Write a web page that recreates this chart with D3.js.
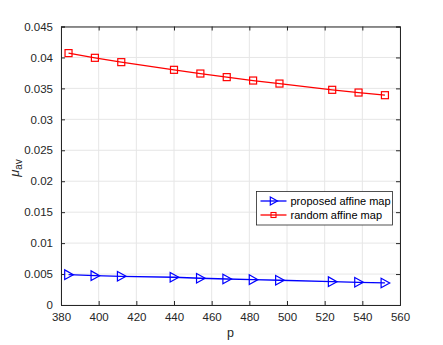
<!DOCTYPE html>
<html><head><meta charset="utf-8">
<script src="https://cdn.jsdelivr.net/npm/d3@7/dist/d3.min.js"></script>
<style>body{margin:0;background:#fff}svg{display:block}text{font-family:"Liberation Sans",Arial,sans-serif}</style>
</head><body><svg id="c" width="443" height="345"></svg>
<script>
const pValues = [384, 398, 412, 440, 454, 468, 482, 496, 524, 538, 552];
const proposed = [0.0049, 0.00474, 0.00464, 0.00448, 0.00432, 0.0042, 0.0041, 0.0040, 0.00377, 0.00367, 0.00356];
const randomMap = [0.0407, 0.03994, 0.03924, 0.0380, 0.0374, 0.03682, 0.03627, 0.03578, 0.03477, 0.03433, 0.0339];
const xTicks = [380, 400, 420, 440, 460, 480, 500, 520, 540, 560];
const yTicks = [0, 0.005, 0.01, 0.015, 0.02, 0.025, 0.03, 0.035, 0.04, 0.045];
const seriesNames = ["proposed affine map", "random affine map"];

const svg = d3.select("#c");
const L = 61, R = 400, T = 26.5, B = 305;
const x = d3.scaleLinear().domain([380, 560]).range([L, R]);
const y = d3.scaleLinear().domain([0, 0.045]).range([B, T]);
const axisColor = "#262626";

// grid
const g = svg.append("g");
g.selectAll(".gx").data(xTicks).enter().append("line")
  .attr("x1", d => x(d)).attr("x2", d => x(d)).attr("y1", T).attr("y2", B)
  .attr("stroke", "#e6e6e6").attr("stroke-width", 1);
g.selectAll(".gy").data(yTicks).enter().append("line")
  .attr("y1", d => y(d)).attr("y2", d => y(d)).attr("x1", L).attr("x2", R)
  .attr("stroke", "#e6e6e6").attr("stroke-width", 1);

// axes
const fmt = d => String(+d.toFixed(4));
const xAxis = d3.axisBottom(x).tickValues(xTicks).tickSize(-4).tickPadding(8).tickFormat(d => d);
const yAxis = d3.axisLeft(y).tickValues(yTicks).tickSize(-4).tickPadding(8).tickFormat(fmt);
const xa = svg.append("g").attr("transform", `translate(0,${B})`).call(xAxis);
const ya = svg.append("g").attr("transform", `translate(${L},0)`).call(yAxis);
const xt = svg.append("g").attr("transform", `translate(0,${T})`).call(d3.axisTop(x).tickValues(xTicks).tickSize(-4).tickFormat(""));
const yr = svg.append("g").attr("transform", `translate(${R},0)`).call(d3.axisRight(y).tickValues(yTicks).tickSize(-4).tickFormat(""));
[xa, ya, xt, yr].forEach(a => {
  a.selectAll("path").attr("stroke", axisColor).attr("stroke-width", 1);
  a.selectAll("line").attr("stroke", axisColor);
  a.selectAll("text").attr("fill", axisColor).attr("font-size", 11.5);
});

// lines
const line = d3.line().x((d, i) => x(pValues[i])).y(d => y(d));
svg.append("path").datum(randomMap).attr("d", line).attr("fill", "none").attr("stroke", "#ff0000").attr("stroke-width", 1.3);
svg.append("path").datum(proposed).attr("d", line).attr("fill", "none").attr("stroke", "#0000ff").attr("stroke-width", 1.3);

// markers
const sq = 3.5;
svg.selectAll(".sq").data(randomMap).enter().append("rect")
  .attr("x", (d, i) => x(pValues[i]) - sq).attr("y", d => y(d) - sq)
  .attr("width", 2 * sq).attr("height", 2 * sq)
  .attr("fill", "none").attr("stroke", "#ff0000").attr("stroke-width", 1.2);
const tri = (cx, cy, s) => `M${cx - 0.8 * s},${cy - s}L${cx + s},${cy}L${cx - 0.8 * s},${cy + s}Z`;
svg.selectAll(".tr").data(proposed).enter().append("path")
  .attr("d", (d, i) => tri(x(pValues[i]), y(d), 4.8))
  .attr("fill", "none").attr("stroke", "#0000ff").attr("stroke-width", 1.2);

// labels
svg.append("text").attr("x", (L + R) / 2).attr("y", 337).attr("text-anchor", "middle")
  .attr("fill", axisColor).attr("font-size", 12.5).text("p");
const yl = svg.append("text").attr("transform", `translate(19,168) rotate(-90)`)
  .attr("text-anchor", "middle").attr("fill", axisColor).attr("font-size", 13);
yl.append("tspan").attr("font-style", "italic").text("μ");
yl.append("tspan").attr("font-size", 10).attr("dy", 3).text("av");

// legend
const lx = 256.5, ly = 191.5, lw = 136, lh = 33.5;
svg.append("rect").attr("x", lx).attr("y", ly).attr("width", lw).attr("height", lh)
  .attr("fill", "#fff").attr("stroke", axisColor).attr("stroke-width", 0.8);
const cols = ["#0000ff", "#ff0000"];
seriesNames.forEach((n, i) => {
  const yy = ly + 9.5 + i * 14;
  svg.append("line").attr("x1", lx + 4).attr("x2", lx + 30).attr("y1", yy).attr("y2", yy)
    .attr("stroke", cols[i]).attr("stroke-width", 1.3);
  if (i === 0) {
    svg.append("path").attr("d", tri(lx + 17, yy, 4)).attr("fill", "none").attr("stroke", cols[i]).attr("stroke-width", 1.2);
  } else {
    svg.append("rect").attr("x", lx + 17 - 2.5).attr("y", yy - 2.5).attr("width", 5).attr("height", 5)
      .attr("fill", "none").attr("stroke", cols[i]).attr("stroke-width", 1.1);
  }
  svg.append("text").attr("x", lx + 34).attr("y", yy + 4).attr("font-size", 11)
    .attr("fill", "#000").text(n);
});
</script></body></html>
